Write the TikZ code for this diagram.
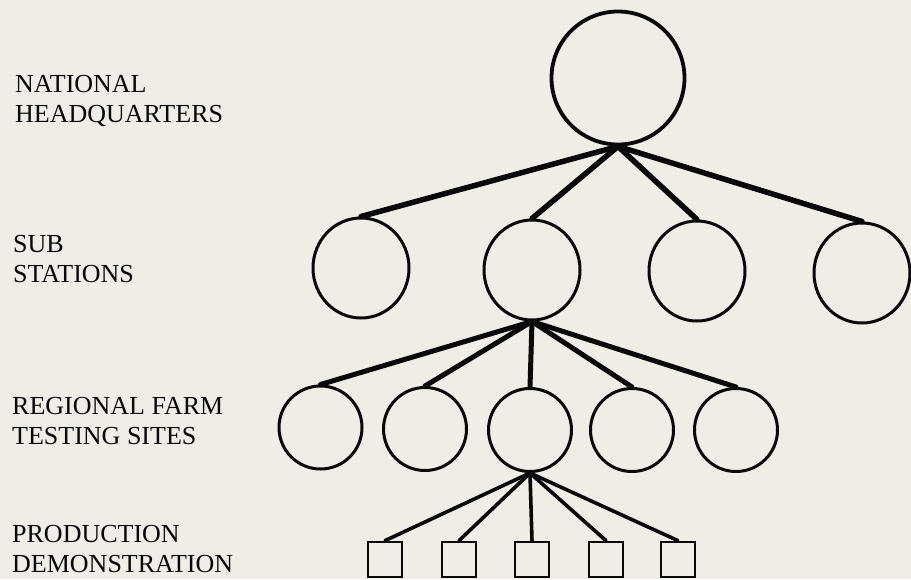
\documentclass[tikz,border=0pt]{standalone}
\usepackage{fontspec}
\setmainfont{Liberation Serif}
\usetikzlibrary{shapes.geometric}
\definecolor{paper}{RGB}{239,237,230}
\definecolor{ink}{RGB}{10,8,8}
\begin{document}
\begin{tikzpicture}[x=1pt,y=-1pt,
  lvlabel/.style={anchor=north west,inner sep=0pt,align=left,text=ink,
    font=\fontsize{26}{30}\selectfont},
  topnode/.style={circle,draw=ink,line width=3.8pt,minimum size=133pt,inner sep=0pt},
  subnode/.style={ellipse,draw=ink,line width=3pt,minimum width=96pt,minimum height=100pt,inner sep=0pt},
  regnode/.style={ellipse,draw=ink,line width=3pt,minimum width=83pt,minimum height=83pt,inner sep=0pt},
  demonode/.style={rectangle,draw=ink,line width=2.7pt,minimum width=34pt,minimum height=35pt,inner sep=0pt},
  bigline/.style={draw=ink,line width=5.5pt,line cap=round},
  midline/.style={draw=ink,line width=5pt,line cap=round},
  smallline/.style={draw=ink,line width=3.6pt,line cap=round}]
\fill[paper] (0,0) rectangle (911,579);
\useasboundingbox (0,0) rectangle (911,579);

% labels
\node[lvlabel] (lnat) at (15,75) {NATIONAL\\HEADQUARTERS};
\node[lvlabel] (lsub) at (13,235) {SUB\\STATIONS};
\node[lvlabel] (lreg) at (12,397) {REGIONAL FARM\\TESTING SITES};
\node[lvlabel] (lpro) at (12,525) {PRODUCTION\\DEMONSTRATION};

% nodes
\node[topnode] (hq) at (618,78) {};
\node[subnode] (s1) at (361,268) {};
\node[subnode] (s2) at (532,270) {};
\node[subnode] (s3) at (697,271) {};
\node[subnode] (s4) at (862,273) {};
\node[regnode] (r1) at (320.5,427.5) {};
\node[regnode] (r2) at (425,429) {};
\node[regnode] (r3) at (530,430) {};
\node[regnode] (r4) at (632,430) {};
\node[regnode] (r5) at (736,430) {};
\node[demonode] (d1) at (385,559.5) {};
\node[demonode] (d2) at (459,559.5) {};
\node[demonode] (d3) at (532,559.5) {};
\node[demonode] (d4) at (606,559.5) {};
\node[demonode] (d5) at (678,559.5) {};

% connectors
\foreach \c in {s1,s2,s3,s4} \path[bigline] (hq.south) -- (\c.north);
\foreach \c in {r1,r2,r3,r4,r5} \path[midline] (s2.south) -- (\c.north);
\foreach \c in {d1,d2,d3,d4,d5} \path[smallline] (r3.south) -- (\c.north);
\end{tikzpicture}
\end{document}
